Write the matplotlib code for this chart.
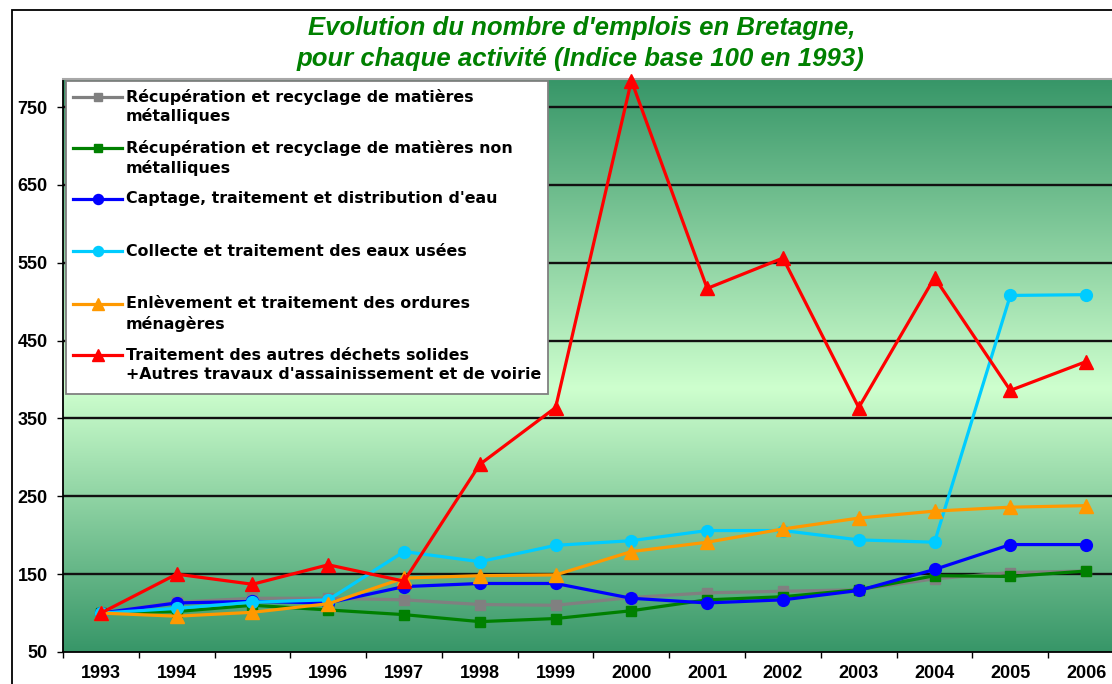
import numpy as np
import matplotlib
matplotlib.use("Agg")
import matplotlib.pyplot as plt
from matplotlib.lines import Line2D
from matplotlib.patches import Rectangle

# ---- data (index, base 100 in 1993) ----
years = [1993, 1994, 1995, 1996, 1997, 1998, 1999, 2000, 2001, 2002, 2003, 2004, 2005, 2006]

recup_metal = [100, 114, 119, 119, 117, 111, 110, 120, 126, 128, 130, 144, 152, 154]
recup_non_metal = [100, 102, 110, 104, 98, 89, 93, 103, 117, 121, 130, 148, 147, 154]
captage_eau = [100, 113, 115, 113, 134, 138, 138, 119, 113, 117, 129, 156, 188, 188]
eaux_usees = [100, 106, 114, 117, 179, 166, 187, 193, 206, 206, 194, 191, 508, 509]
ordures = [100, 96, 101, 112, 145, 148, 149, 179, 191, 208, 222, 231, 236, 238]
autres_dechets = [100, 150, 137, 162, 141, 291, 364, 784, 517, 556, 364, 531, 386, 423]

series_labels = [
    ["Récupération et recyclage de matières", "métalliques"],
    ["Récupération et recyclage de matières non", "métalliques"],
    ["Captage, traitement et distribution d'eau"],
    ["Collecte et traitement des eaux usées"],
    ["Enlèvement et traitement des ordures", "ménagères"],
    ["Traitement des autres déchets solides", "+Autres travaux d'assainissement et de voirie"],
]
series_values = [recup_metal, recup_non_metal, captage_eau, eaux_usees, ordures, autres_dechets]
series_colors = ["#808080", "#008000", "#0000FF", "#00CCFF", "#FF9900", "#FF0000"]
series_markers = ["s", "s", "o", "o", "^", "^"]
series_msizes = [7.0, 7.5, 8.5, 8.5, 9.5, 9.5]

y_ticks = [50, 150, 250, 350, 450, 550, 650, 750]
title_lines = ["Evolution du nombre d'emplois en Bretagne,",
               "pour chaque activité (Indice base 100 en 1993)"]

# ---- figure geometry (pixels) ----
W, H = 1112, 684
px_left, px_right, px_top, px_bottom = 63, 1124, 79, 652

fig = plt.figure(figsize=(W / 100, H / 100), dpi=100)
fig.patch.set_facecolor("white")
ax = fig.add_axes([px_left / W, 1 - px_bottom / H,
                   (px_right - px_left) / W, (px_bottom - px_top) / H])

# outer chart frame
fig.add_artist(Rectangle((12 / W, -0.1), 1.2, 1 - 10 / H + 0.1,
                         transform=fig.transFigure, fill=False,
                         edgecolor="black", linewidth=1.3, zorder=0))

# vertical two-tone gradient in the plot area
dark = np.array([55, 150, 104]) / 255
light = np.array([206, 255, 206]) / 255
t = np.linspace(0, 1, 400)
peak = 0.46
w = np.where(t < peak, t / peak, (1 - t) / (1 - peak))
grad = dark[None, :] * (1 - w[:, None]) + light[None, :] * w[:, None]
ax.imshow(grad[:, None, :], extent=[0, 1, 0, 1], transform=ax.transAxes,
          aspect="auto", origin="lower", zorder=0, interpolation="bilinear")

x = np.arange(len(years))
ax.set_xlim(-0.5, len(years) - 0.5)
ax.set_ylim(50, 786)

# horizontal gridlines
for v in y_ticks[1:]:
    ax.axhline(v, color="#111111", linewidth=1.7, zorder=1)

for vals, col, mk, ms in zip(series_values, series_colors, series_markers, series_msizes):
    ax.plot(x, vals, color=col, linewidth=2.3, marker=mk, markersize=ms,
            markerfacecolor=col, markeredgecolor=col, zorder=3, clip_on=False)

# axes styling
tick_font = dict(family="Liberation Sans", weight="bold", size=13)
ax.set_yticks(y_ticks)
ax.set_yticklabels([str(v) for v in y_ticks], fontdict=tick_font)
ax.set_xticks(x)
ax.set_xticklabels([str(y) for y in years], fontdict=tick_font)
ax.set_xticks(np.arange(-0.5, len(years), 1.0), minor=True)
ax.tick_params(axis="x", which="major", length=0, pad=9)
ax.tick_params(axis="x", which="minor", length=4, width=1, color="black", direction="out")
ax.tick_params(axis="y", length=4, width=1, color="black", direction="out", pad=7)
for side in ("left", "bottom"):
    ax.spines[side].set_color("black")
    ax.spines[side].set_linewidth(1.3)
ax.spines["top"].set_color("#A8A8A8")
ax.spines["top"].set_linewidth(1.5)
ax.spines["right"].set_visible(False)

# title
title_font = dict(family="Liberation Sans", weight="bold", style="italic", size=18.5,
                  color="#008000")
fig.text(582 / W, 1 - 28 / H, title_lines[0], ha="center", va="center", **title_font)
fig.text(581 / W, 1 - 59 / H, title_lines[1], ha="center", va="center", **title_font)

# legend box drawn in pixel-derived axes coordinates
def ax_x(px):
    return (px - px_left) / (px_right - px_left)

def ax_y(py):
    return (px_bottom - py) / (px_bottom - px_top)

ax.add_patch(Rectangle((ax_x(66), ax_y(394)), ax_x(548) - ax_x(66), ax_y(81) - ax_y(394),
                       transform=ax.transAxes, facecolor="white", edgecolor="#808080",
                       linewidth=1.3, zorder=5))
entry_y = [97, 148, 199, 251, 304, 355]
leg_font = dict(family="DejaVu Sans", weight="bold", size=11.4, color="black")
for lines, col, mk, ms, py in zip(series_labels, series_colors, series_markers,
                                  series_msizes, entry_y):
    ax.add_line(Line2D([ax_x(73), ax_x(122)], [ax_y(py), ax_y(py)], transform=ax.transAxes,
                       color=col, linewidth=2.3, zorder=6))
    ax.add_line(Line2D([ax_x(97.5)], [ax_y(py)], transform=ax.transAxes, marker=mk,
                       markersize=ms * 0.85, color=col, zorder=7))
    for i, line in enumerate(lines):
        ax.text(ax_x(126), ax_y(py + 19.5 * i), line, transform=ax.transAxes,
                ha="left", va="center", zorder=7, **leg_font)

fig.savefig("out.png", dpi=100)
